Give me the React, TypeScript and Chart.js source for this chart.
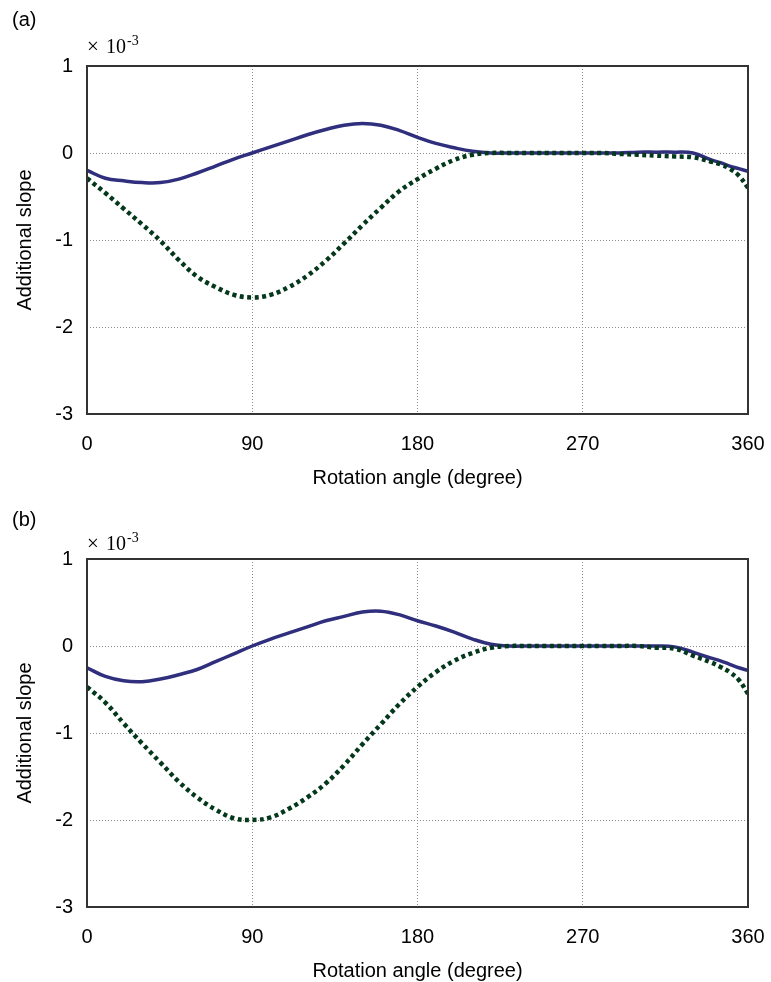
import React, { useEffect, useRef } from "react";
import { Chart, registerables } from "chart.js";

Chart.register(...registerables);

// Rotation angle (degree)
const angles = [
  0, 10, 20, 30, 40, 50, 60, 70, 80, 90, 100, 110, 120, 130, 140, 150, 160, 170,
  180, 190, 200, 210, 220, 230, 240, 250, 260, 270, 280, 290, 300, 310, 320, 330,
  340, 345, 350, 355, 360,
];

// Panel (a)  (×10^-3)
const solidA = [
  -0.2, -0.29, -0.32, -0.34, -0.34, -0.3, -0.23, -0.15, -0.07, 0.0, 0.07, 0.14, 0.21,
  0.27, 0.32, 0.34, 0.32, 0.26, 0.18, 0.11, 0.06, 0.02, 0.0, 0.0, 0.0, 0.0, 0.0, 0.0,
  0.0, 0.0, 0.01, 0.01, 0.01, 0.0, -0.08, -0.11, -0.15, -0.18, -0.21,
];
const dottedA = [
  -0.29, -0.46, -0.64, -0.82, -1.01, -1.23, -1.42, -1.54, -1.63, -1.66, -1.63, -1.54,
  -1.41, -1.24, -1.04, -0.83, -0.63, -0.44, -0.3, -0.18, -0.08, -0.02, 0.0, 0.0, 0.0,
  0.0, 0.0, 0.0, 0.0, -0.01, -0.02, -0.03, -0.04, -0.05, -0.1, -0.13, -0.18, -0.26, -0.4,
];

// Panel (b)  (×10^-3)
const solidB = [
  -0.25, -0.35, -0.4, -0.41, -0.38, -0.33, -0.27, -0.18, -0.09, 0.0, 0.08, 0.15, 0.22,
  0.29, 0.34, 0.39, 0.4, 0.36, 0.29, 0.23, 0.16, 0.08, 0.02, 0.0, 0.0, 0.0, 0.0, 0.0,
  0.0, 0.0, 0.0, 0.0, -0.01, -0.07, -0.14, -0.17, -0.21, -0.25, -0.28,
];
const dottedB = [
  -0.47, -0.65, -0.89, -1.12, -1.34, -1.56, -1.74, -1.88, -1.98, -2.0, -1.97, -1.87,
  -1.74, -1.58, -1.37, -1.13, -0.9, -0.67, -0.47, -0.3, -0.17, -0.08, -0.02, 0.0, 0.0,
  0.0, 0.0, 0.0, 0.0, 0.0, 0.0, -0.02, -0.03, -0.11, -0.19, -0.24, -0.3, -0.39, -0.55,
];

const xTickValues = [0, 90, 180, 270, 360];
const xTickLabels = ["0", "90", "180", "270", "360"];
const yTickValues = [-3, -2, -1, 0, 1];
const yTickLabels = ["-3", "-2", "-1", "0", "1"];

const SANS = "'Liberation Sans', Arial, sans-serif";
const SERIF = "'Liberation Serif', 'Times New Roman', serif";
const SOLID_COLOR = "#302f7d";
const DOTTED_COLOR = "#03381b";

const decorPlugin = {
  id: "decor",
  afterDraw(chart: any, _args: any, opts: any) {
    const { ctx, chartArea: a } = chart;
    ctx.save();
    ctx.setLineDash([]);
    ctx.strokeStyle = "#333";
    ctx.lineWidth = 2;
    ctx.strokeRect(a.left, a.top, a.right - a.left, a.bottom - a.top);
    ctx.fillStyle = "#000";
    ctx.textAlign = "left";
    ctx.textBaseline = "alphabetic";
    ctx.font = "20px " + SANS;
    ctx.fillText(opts.label, 12, opts.labelY);
    ctx.font = "21px " + SERIF;
    ctx.fillText("\u00d7", 87, opts.expY);
    ctx.font = "20px " + SERIF;
    ctx.fillText("10", 106, opts.expY);
    const w10 = ctx.measureText("10").width;
    ctx.font = "14px " + SERIF;
    ctx.fillText("-3", 106 + w10 + 1, opts.expY - 8);
    ctx.restore();
  },
};

function gridColor(ctx: any, ends: number[]) {
  const v = ctx.tick ? ctx.tick.value : null;
  if (v === ends[0] || v === ends[1]) return "rgba(0,0,0,0)";
  return "#8a8a8a";
}

function Panel(props: {
  top: number;
  label: string;
  labelY: number;
  expY: number;
  solid: number[];
  dotted: number[];
}) {
  const ref = useRef<HTMLCanvasElement | null>(null);
  useEffect(() => {
    if (!ref.current) return;
    const chart = new Chart(ref.current, {
      type: "line",
      data: {
        datasets: [
          {
            label: "dotted",
            data: angles.map((x, i) => ({ x, y: props.dotted[i] })),
            borderColor: DOTTED_COLOR,
            borderWidth: 4.5,
            borderDash: [4, 3.5],
            borderCapStyle: "butt",
            pointRadius: 0,
            tension: 0.4,
            fill: false,
          },
          {
            label: "solid",
            data: angles.map((x, i) => ({ x, y: props.solid[i] })),
            borderColor: SOLID_COLOR,
            borderWidth: 3.5,
            pointRadius: 0,
            tension: 0.4,
            fill: false,
          },
        ],
      },
      options: {
        animation: false,
        responsive: false,
        maintainAspectRatio: false,
        devicePixelRatio: 1,
        layout: { padding: { left: 0, right: 23, top: 66, bottom: 0 } },
        plugins: {
          legend: { display: false },
          tooltip: { enabled: false },
          decor: { label: props.label, labelY: props.labelY, expY: props.expY },
        } as any,
        scales: {
          x: {
            type: "linear",
            min: 0,
            max: 360,
            afterBuildTicks: (s: any) => {
              s.ticks = xTickValues.map((v) => ({ value: v }));
            },
            afterFit: (s: any) => {
              s.height = 77;
              s.paddingLeft = 0;
              s.paddingRight = 0;
            },
            ticks: {
              padding: 18,
              color: "#000",
              font: { family: SANS, size: 20 },
              maxRotation: 0,
              callback: (v: any) => {
                const i = xTickValues.indexOf(Number(v));
                return i >= 0 ? xTickLabels[i] : "";
              },
            },
            grid: {
              drawTicks: false,
              color: (c: any) => gridColor(c, [0, 360]),
              lineWidth: 1,
            },
            border: { display: false, dash: [1, 2] },
            title: {
              display: true,
              text: "Rotation angle (degree)",
              color: "#000",
              font: { family: SANS, size: 20 },
              padding: { top: 0, bottom: 1 },
            },
          },
          y: {
            type: "linear",
            min: -3,
            max: 1,
            afterBuildTicks: (s: any) => {
              s.ticks = yTickValues.map((v) => ({ value: v }));
            },
            afterFit: (s: any) => {
              s.width = 87;
              s.paddingTop = 0;
              s.paddingBottom = 0;
            },
            ticks: {
              padding: 14,
              color: "#000",
              font: { family: SANS, size: 20 },
              callback: (v: any) => {
                const i = yTickValues.indexOf(Number(v));
                return i >= 0 ? yTickLabels[i] : "";
              },
            },
            grid: {
              drawTicks: false,
              color: (c: any) => gridColor(c, [-3, 1]),
              lineWidth: 1,
            },
            border: { display: false, dash: [1, 2] },
            title: {
              display: true,
              text: "Additional slope",
              color: "#000",
              font: { family: SANS, size: 20 },
              padding: { top: 13, bottom: 0 },
            },
          },
        },
      } as any,
      plugins: [decorPlugin as any],
    });
    return () => chart.destroy();
  }, []);
  return (
    <canvas
      ref={ref}
      width={771}
      height={491}
      style={{ position: "absolute", left: 0, top: props.top, width: 771, height: 491, display: "block" }}
    />
  );
}

export default function App() {
  return (
    <div
      style={{
        position: "absolute",
        left: 0,
        top: 0,
        width: 771,
        height: 982,
        overflow: "hidden",
        background: "#fff",
      }}
    >
      <Panel top={0} label="(a)" labelY={26} expY={53} solid={solidA} dotted={dottedA} />
      <Panel top={493} label="(b)" labelY={33} expY={57} solid={solidB} dotted={dottedB} />
    </div>
  );
}
